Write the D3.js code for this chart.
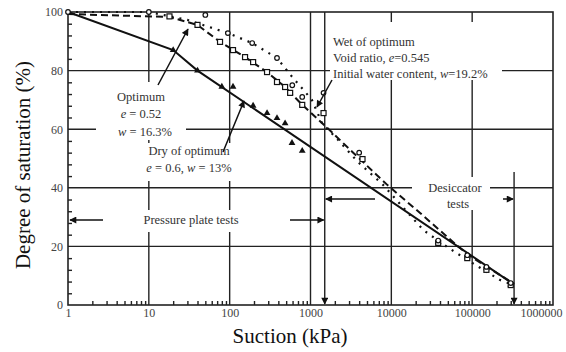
<!DOCTYPE html>
<html lang="en">
<head>
<meta charset="utf-8">
<title>Degree of saturation vs suction</title>
<script src="https://d3js.org/d3.v7.min.js"></script>
<style>
    body { margin: 0; background: #fff; }
    text { font-family: "Liberation Serif", "Times New Roman", serif; fill: #333; }
    .tick text { font-size: 12px; fill: #444; }
    .grid { stroke: #222; stroke-width: 1.4; }
    .note { font-size: 12.5px; }
</style>
</head>
<body>
<svg width="566" height="352"></svg>
<script>
// x ticks (kPa) and y ticks (%)
var xTicks = [1, 10, 100, 1000, 10000, 100000, 1000000];
var yTicks = [0, 20, 40, 60, 80, 100];

// fitted curves: [suction kPa, saturation %]
var dryCurve = [[1, 100], [20, 87], [40, 80], [330000, 7]];
var optCurve = [[1, 99.3], [18, 98.3], [40, 95.6], [76, 89.8], [155, 84.6], [290, 79.5], [485, 74.4],
    [790, 68.3], [1620, 60.4], [3400, 51.9], [8900, 41], [22700, 31.4], [58000, 21.5], [89000, 17.1], [330000, 7.2]];
var wetCurve = [[1, 100], [10, 100], [30, 97.3], [95, 92.8], [190, 89.4], [385, 84.3], [595, 77.8], [860, 72.7],
    [1040, 70], [1390, 62], [2200, 56.3], [3870, 48.8], [7900, 41], [24800, 25.6], [49000, 19.8], [87000, 15.4],
    [222000, 8.5], [330000, 6.8]];

// measured points
var dryPts = [[20, 87], [40, 80], [80, 74.5], [110, 74.5], [195, 68], [290, 65.5], [385, 63.8], [485, 62],
    [590, 55.3], [790, 52.6], [38000, 21.5], [87000, 16.5], [150000, 12.5], [300000, 7]];
var optPts = [[18, 98.5], [40, 95.6], [76, 89.8], [110, 87], [155, 84.6], [195, 82.9], [290, 79.5], [385, 76.1],
    [485, 74.4], [560, 72.4], [790, 68.3], [1450, 65.5], [4400, 49.8], [38000, 21.2], [87000, 16], [150000, 12], [300000, 6.8]];
var wetPts = [[1, 100], [10, 100], [50, 99], [95, 92.8], [190, 89.4], [385, 84.3], [595, 75], [790, 71],
    [1450, 72.4], [4000, 52], [38000, 22], [87000, 17], [150000, 13], [300000, 7.5]];

// test ranges (kPa)
var platesLimit = 1500;
var desiccLimit = 330000;

var svg = d3.select("svg");
var x = d3.scaleLog().domain([1, 1000000]).range([68, 553]);
var y = d3.scaleLinear().domain([0, 100]).range([305, 12]);

var defs = svg.append("defs");
defs.append("marker").attr("id", "arr")
    .attr("viewBox", "0 0 10 10").attr("refX", 9).attr("refY", 5)
    .attr("markerWidth", 8).attr("markerHeight", 7).attr("orient", "auto")
    .attr("markerUnits", "userSpaceOnUse")
    .append("path").attr("d", "M0,0L10,5L0,10Z").attr("fill", "#111");

// grid
var g = svg.append("g");
yTicks.filter(function(d) { return d > 0 && d < 100; }).forEach(function(d) {
    g.append("line").attr("class", "grid").attr("x1", x(1)).attr("x2", x(1000000)).attr("y1", y(d)).attr("y2", y(d));
});
xTicks.filter(function(d) { return d > 1 && d < 1000000; }).forEach(function(d) {
    g.append("line").attr("class", "grid").attr("x1", x(d)).attr("x2", x(d)).attr("y1", y(0)).attr("y2", y(100));
});
// test boundaries
g.append("line").attr("class", "grid").attr("x1", x(platesLimit)).attr("x2", x(platesLimit))
    .attr("y1", y(100)).attr("y2", y(0) - 1).attr("marker-end", "url(#arr)");
g.append("line").attr("class", "grid").attr("x1", x(desiccLimit)).attr("x2", x(desiccLimit))
    .attr("y1", 172).attr("y2", y(0) - 1).attr("marker-end", "url(#arr)");

// white boxes behind annotation text
[[96, 82, 90, 58], [143, 143, 94, 38], [140, 210, 102, 22], [330, 22, 172, 58], [412, 177, 78, 33]].forEach(function(b) {
    g.append("rect").attr("x", b[0]).attr("y", b[1]).attr("width", b[2]).attr("height", b[3]).attr("fill", "#fff");
});

// frame
svg.append("rect").attr("x", x(1)).attr("y", y(100)).attr("width", x(1000000) - x(1)).attr("height", y(0) - y(100))
    .attr("fill", "none").attr("stroke", "#222").attr("stroke-width", 1.6);

// axes
var minorX = [];
for (var p = 0; p < 6; p++) for (var k = 2; k < 10; k++) minorX.push(k * Math.pow(10, p));
var minorY = d3.range(0, 101, 4).filter(function(d) { return d % 20 !== 0; });

svg.append("g").attr("transform", "translate(0," + y(0) + ")")
    .call(d3.axisBottom(x).tickValues(xTicks).tickFormat(d3.format("d")).tickSize(0).tickPadding(3))
    .call(function(a) { a.select(".domain").remove(); })
    .call(function(a) { a.selectAll(".tick text").filter(function(d) { return d === 1000000; }).attr("dx", -12); });
svg.append("g").attr("transform", "translate(0," + y(0) + ")")
    .call(d3.axisBottom(x).tickValues(minorX).tickFormat("").tickSize(-4))
    .call(function(a) { a.select(".domain").remove(); a.selectAll("line").attr("stroke", "#222").attr("stroke-width", 1.4); });
svg.append("g").attr("transform", "translate(" + x(1) + ",0)")
    .call(d3.axisLeft(y).tickValues(yTicks).tickSize(0).tickPadding(5))
    .call(function(a) { a.select(".domain").remove(); });
svg.append("g").attr("transform", "translate(" + x(1) + ",0)")
    .call(d3.axisLeft(y).tickValues(minorY).tickFormat("").tickSize(-4))
    .call(function(a) { a.select(".domain").remove(); a.selectAll("line").attr("stroke", "#222").attr("stroke-width", 1.4); });

// curves
var line = d3.line().x(function(d) { return x(d[0]); }).y(function(d) { return y(d[1]); });
svg.append("path").datum(dryCurve).attr("d", line).attr("fill", "none").attr("stroke", "#111").attr("stroke-width", 2);
svg.append("path").datum(optCurve).attr("d", line).attr("fill", "none").attr("stroke", "#111")
    .attr("stroke-width", 2).attr("stroke-dasharray", "7,4");
svg.append("path").datum(wetCurve).attr("d", line).attr("fill", "none").attr("stroke", "#111")
    .attr("stroke-width", 2.2).attr("stroke-dasharray", "2,6");

// markers
svg.selectAll(".tri").data(dryPts).enter().append("path").attr("class", "tri")
    .attr("d", d3.symbol().type(d3.symbolTriangle).size(20))
    .attr("transform", function(d) { return "translate(" + x(d[0]) + "," + y(d[1]) + ")"; })
    .attr("fill", "#111");
svg.selectAll(".sq").data(optPts).enter().append("rect").attr("class", "sq")
    .attr("x", function(d) { return x(d[0]) - 2.5; }).attr("y", function(d) { return y(d[1]) - 2.5; })
    .attr("width", 5).attr("height", 5).attr("fill", "#fff").attr("stroke", "#111").attr("stroke-width", 1.2);
svg.selectAll(".ci").data(wetPts).enter().append("circle").attr("class", "ci")
    .attr("cx", function(d) { return x(d[0]); }).attr("cy", function(d) { return y(d[1]); })
    .attr("r", 2.3).attr("fill", "#fff").attr("stroke", "#111").attr("stroke-width", 1.2);

// annotations
function arrow(x1, y1, x2, y2) {
    svg.append("line").attr("x1", x1).attr("y1", y1).attr("x2", x2).attr("y2", y2)
        .attr("stroke", "#111").attr("stroke-width", 1.5).attr("marker-end", "url(#arr)");
}
arrow(158, 85, 188, 29);
arrow(223, 152, 244, 101);
arrow(332, 80, 317, 107);
arrow(103, 220, 70, 220);
arrow(290, 220, x(platesLimit) - 1, 220);
arrow(375, 199, x(platesLimit) + 1, 199);
arrow(503, 199, x(desiccLimit) - 1, 199);

function note(tx, ty, anchor, parts) {
    var t = svg.append("text").attr("class", "note").attr("x", tx).attr("y", ty).attr("text-anchor", anchor);
    parts.forEach(function(p) {
        t.append("tspan").text(p[0]).attr("font-style", p[1] ? "italic" : null);
    });
}
note(141, 101, "middle", [["Optimum"]]);
note(141, 118, "middle", [["e", 1], [" = 0.52"]]);
note(145, 136, "middle", [["w", 1], [" = 16.3%"]]);
note(189, 155, "middle", [["Dry of optimum"]]);
note(189, 172, "middle", [["e", 1], [" = 0.6, "], ["w", 1], [" = 13%"]]);
note(191, 224, "middle", [["Pressure plate tests"]]);
note(455, 192, "middle", [["Desiccator"]]);
note(458, 208, "middle", [["tests"]]);
note(333, 46, "start", [["Wet of optimum"]]);
note(333, 62, "start", [["Void ratio, "], ["e", 1], ["=0.545"]]);
note(333, 78, "start", [["Initial water content, "], ["w", 1], ["=19.2%"]]);

svg.append("text").attr("x", 290).attr("y", 343).attr("text-anchor", "middle")
    .style("font-size", "21px").style("fill", "#111").text("Suction (kPa)");
svg.append("text").attr("transform", "translate(30,165) rotate(-90)").attr("text-anchor", "middle")
    .style("font-size", "21px").style("fill", "#111").text("Degree of saturation (%)");
</script>
</body>
</html>
